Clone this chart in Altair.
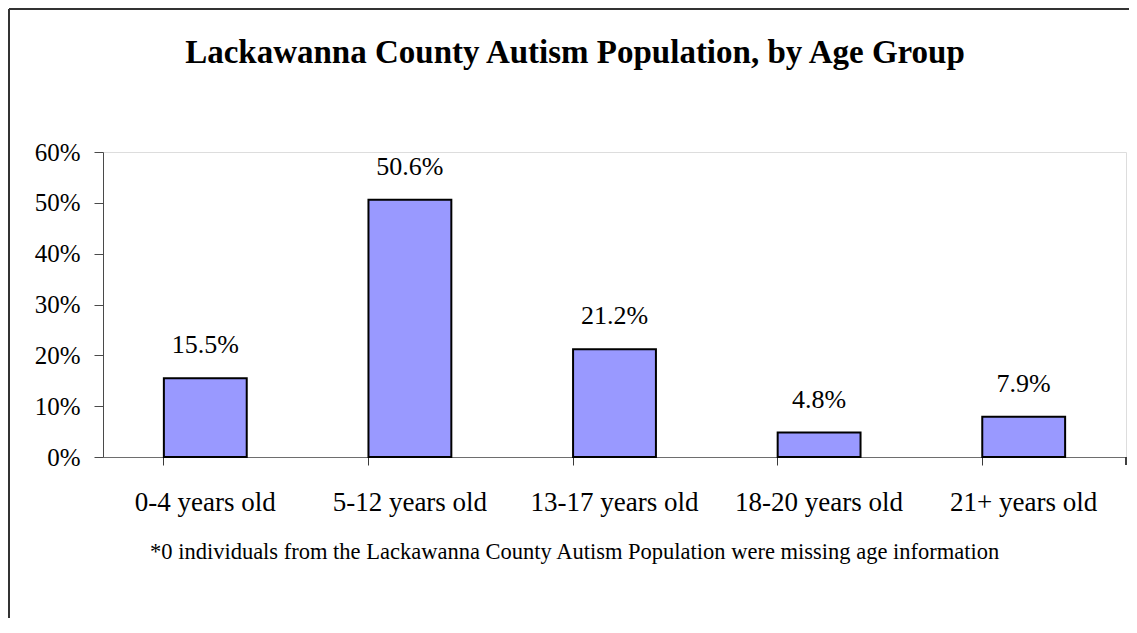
import altair as alt
import pandas as pd

categories = ["0-4 years old", "5-12 years old", "13-17 years old", "18-20 years old", "21+ years old"]
shares = [0.155, 0.506, 0.212, 0.048, 0.079]
y_ticks = [0.0, 0.1, 0.2, 0.3, 0.4, 0.5, 0.6]
title_text = "Lackawanna County Autism Population, by Age Group"
footnote_text = "*0 individuals from the Lackawanna County Autism Population were missing age information"

df = pd.DataFrame({"group": categories, "share": shares})

W, H = 1023, 305
FONT = "Liberation Serif"

x_enc = alt.X(
    "group:N",
    sort=categories,
    scale=alt.Scale(paddingInner=0.595, paddingOuter=0.2975),
    axis=alt.Axis(
        title=None, labelAngle=0, bandPosition=0, tickSize=8, ticks=True,
        labelPadding=24, labelFontSize=27, labelFont=FONT, labelColor="black",
        domainColor="#6e6e6e", tickColor="#3a3a3a", grid=False,
    ),
)
y_enc = alt.Y(
    "share:Q",
    scale=alt.Scale(domain=[0, 0.6], nice=False),
    axis=alt.Axis(
        title=None, values=y_ticks, format=".0%", tickSize=9, labelPadding=14,
        labelFontSize=25, labelFont=FONT, labelColor="black",
        domainColor="#4a4a4a", tickColor="#4a4a4a", grid=False,
    ),
)

bars = alt.Chart(df).mark_bar(color="#9999FF", stroke="black", strokeWidth=2).encode(x=x_enc, y=y_enc)

labels = alt.Chart(df).mark_text(
    baseline="alphabetic", dy=-25, fontSize=26, font=FONT, color="black"
).encode(
    x=alt.X("group:N", sort=categories),
    y="share:Q",
    text=alt.Text("share:Q", format=".1%"),
)

end_tick = alt.Chart(df).mark_rule(color="#3a3a3a").encode(
    x=alt.value(W), y=alt.value(H), y2=alt.value(H + 8)
)

frame_top = alt.Chart(df).mark_rule(color="#333333", strokeWidth=2).encode(
    x=alt.value(-94), x2=alt.value(W + 40), y=alt.value(-143)
)
frame_left = alt.Chart(df).mark_rule(color="#333333", strokeWidth=2).encode(
    x=alt.value(-94), y=alt.value(-143), y2=alt.value(H + 200)
)

title = alt.Chart(pd.DataFrame({"t": [title_text]})).mark_text(
    fontSize=33, font=FONT, fontWeight="bold", align="center", baseline="alphabetic", color="black"
).encode(x=alt.value(472), y=alt.value(-89), text="t:N")

footnote = alt.Chart(pd.DataFrame({"t": [footnote_text]})).mark_text(
    fontSize=22.5, font=FONT, align="left", baseline="alphabetic", color="black"
).encode(x=alt.value(47), y=alt.value(407), text="t:N")

chart = alt.layer(frame_top, frame_left, bars, labels, end_tick, title, footnote).properties(
    width=W, height=H,
    autosize=alt.AutoSizeParams(type="none"),
    padding={"left": 95, "top": 144, "right": 3, "bottom": 161},
).configure_view(stroke="#8c8c8c", strokeWidth=2).configure(background="white")

chart.save("out.html", embed_options={"renderer": "svg", "actions": False})
